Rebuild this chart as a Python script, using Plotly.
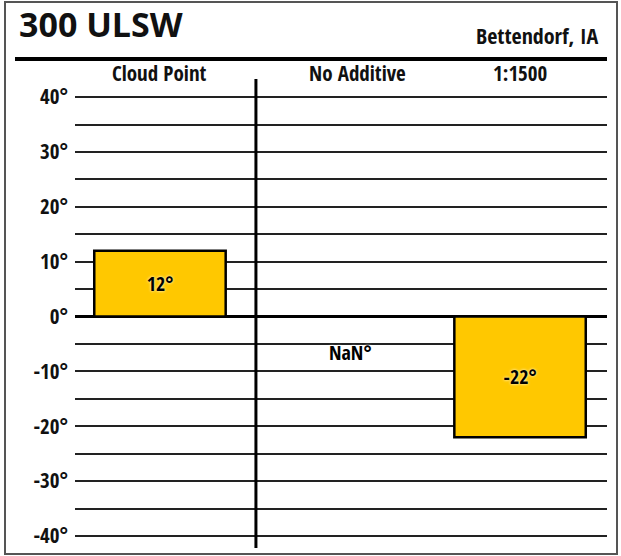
import plotly.graph_objects as go

# data
categories = ["Cloud Point", "No Additive", "1:1500"]
values = [12, None, -22]
y_ticks = [40, 30, 20, 10, 0, -10, -20, -30, -40]
y_tick_labels = [f"{v}°" for v in y_ticks]
bar_labels = [f"{v}°" if v is not None else "NaN°" for v in values]

narrow = "Open Sans Condensed, Roboto Condensed, sans-serif"
W, H = 621, 556
L, R, T, B = 75, 14, 79, 8

def px_x(p):
    return (p - L) / (W - L - R)

def px_y(p):
    return 1 - (p - T) / (H - T - B)

lbl_font = dict(family=narrow, size=20, color="black", weight="bold", shadow="0px 0px 3px white")

fig = go.Figure()
fig.add_trace(go.Bar(
    x=categories, y=values,
    text=[t if v is not None else "" for t, v in zip(bar_labels, values)],
    textposition="inside", insidetextanchor="middle",
    textfont=lbl_font,
    marker=dict(color="#FFC800", line=dict(color="black", width=2.5)),
    width=0.73, hoverinfo="skip",
))

# label for the missing value
for c, v, t in zip(categories, values, bar_labels):
    if v is None:
        fig.add_annotation(x=c, y=-6.5, text=t, showarrow=False, xshift=10, font=lbl_font)

# column headers
shifts = [0, 17, 0]
for c, s in zip(categories, shifts):
    fig.add_annotation(x=c, xref="x", yref="paper", y=px_y(72.5), yanchor="middle", text=c,
                       showarrow=False, xshift=s,
                       font=dict(family=narrow, size=21, color="#111", weight="bold"))

fig.update_layout(
    width=W, height=H,
    margin=dict(l=L, r=R, t=T, b=B),
    paper_bgcolor="white", plot_bgcolor="white",
    showlegend=False,
    title=dict(text="<b>300 ULSW</b>", x=19 / W, xanchor="left", y=1 - 25.5 / H, yanchor="middle",
               font=dict(family="Open Sans, sans-serif", size=34, color="#111")),
    xaxis=dict(range=[-0.472, 2.483], showgrid=False, showline=False,
               ticks="", showticklabels=False),
    yaxis=dict(range=[-42.2, 43.3], tickvals=y_ticks, ticktext=y_tick_labels,
               tickfont=dict(family=narrow, size=21, color="#111", weight="bold"),
               ticklabelstandoff=6,
               showgrid=True, gridcolor="#222", gridwidth=1.6,
               minor=dict(dtick=5, showgrid=True, gridcolor="#222", gridwidth=1.6),
               zeroline=True, zerolinecolor="black", zerolinewidth=3, showline=False),
)

fig.add_annotation(text="Bettendorf, IA", xref="paper", yref="paper",
                   x=px_x(601), y=px_y(35), xanchor="right", yanchor="middle", showarrow=False,
                   font=dict(family=narrow, size=22, color="#111", weight="bold"))

# outer frame, header rule, divider
fig.add_shape(type="rect", xref="paper", yref="paper",
              x0=px_x(5), x1=px_x(617), y0=px_y(554), y1=px_y(2),
              line=dict(color="#555", width=2), layer="below")
fig.add_shape(type="line", xref="paper", yref="paper",
              x0=px_x(15), x1=px_x(607), y0=px_y(59), y1=px_y(59),
              line=dict(color="black", width=4))
fig.add_shape(type="line", xref="x", yref="paper", x0=0.533, x1=0.533, y0=0, y1=1,
              line=dict(color="black", width=3))

fig.write_html("out.html", config={"displayModeBar": False},
               post_script="document.body.style.margin='0';")
